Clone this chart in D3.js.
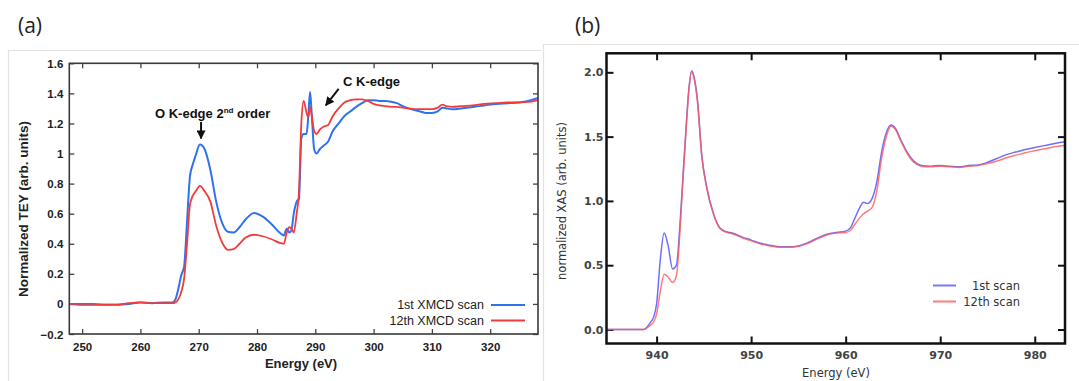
<!DOCTYPE html>
<html>
<head>
<meta charset="utf-8">
<script src="https://cdn.jsdelivr.net/npm/d3@7"></script>
<style>
  html, body { margin: 0; padding: 0; background: #fff; }
  svg { display: block; }
</style>
</head>
<body>
<svg id="chart" width="1079" height="381"></svg>
<script>
// ---------- Panel (a) data ----------
const aEnergy = [247.8, 250, 252, 254, 256, 258, 260, 262, 264, 265.5, 266, 266.5, 267, 267.5, 268, 268.5, 269, 269.5, 270.2, 271, 272, 273, 274, 275, 276, 277, 278, 279.5, 281, 282.5, 284, 284.6, 285.1, 285.5, 285.9, 286.3, 286.8, 287.2, 287.6, 288.0, 288.5, 288.8, 289.1, 289.4, 289.8, 290.2, 290.8, 291.5, 292.2, 293, 294, 295, 296, 297, 298, 299, 300, 301, 302, 303, 304, 305, 306, 307, 308, 309, 310, 311, 311.8, 312.5, 313.5, 315, 317, 319, 321, 323, 325, 327, 328.2];
const aScan1 = [0, -0.005, -0.005, -0.005, -0.005, 0, 0.01, 0.005, 0.01, 0.01, 0.03, 0.1, 0.19, 0.25, 0.55, 0.85, 0.93, 0.99, 1.06, 1.03, 0.89, 0.68, 0.54, 0.48, 0.475, 0.51, 0.56, 0.605, 0.58, 0.53, 0.47, 0.455, 0.5, 0.475, 0.49, 0.6, 0.68, 0.7, 1.1, 1.13, 1.13, 1.25, 1.41, 1.25, 1.03, 1.0, 1.03, 1.055, 1.08, 1.15, 1.2, 1.25, 1.28, 1.31, 1.335, 1.355, 1.355, 1.35, 1.35, 1.345, 1.335, 1.315, 1.3, 1.29, 1.28, 1.27, 1.27, 1.28, 1.305, 1.3, 1.295, 1.3, 1.31, 1.32, 1.33, 1.335, 1.34, 1.355, 1.37];
const aScan12 = [0, 0, 0, -0.005, -0.005, 0.005, 0.01, 0.005, 0.005, 0.005, 0.01, 0.03, 0.08, 0.17, 0.4, 0.66, 0.72, 0.75, 0.785, 0.75, 0.68, 0.52, 0.41, 0.36, 0.365, 0.4, 0.44, 0.46, 0.45, 0.43, 0.405, 0.40, 0.475, 0.51, 0.5, 0.475, 0.6, 0.75, 1.2, 1.35, 1.27, 1.24, 1.31, 1.25, 1.15, 1.13, 1.16, 1.18, 1.19, 1.25, 1.3, 1.34, 1.355, 1.36, 1.36, 1.35, 1.33, 1.32, 1.315, 1.31, 1.31, 1.305, 1.3, 1.295, 1.295, 1.295, 1.295, 1.305, 1.325, 1.315, 1.31, 1.315, 1.32, 1.33, 1.335, 1.34, 1.34, 1.345, 1.355];
const aXTicks = [250, 260, 270, 280, 290, 300, 310, 320];
const aYTicks = [-0.2, 0, 0.2, 0.4, 0.6, 0.8, 1, 1.2, 1.4, 1.6];
const aSeriesNames = ["1st XMCD scan", "12th XMCD scan"];

// ---------- Panel (b) data ----------
const bEnergy = [934.7, 936, 937, 938, 938.6, 939.3, 939.7, 940, 940.4, 940.8, 941.2, 941.7, 942.1, 942.5, 942.8, 943.1, 943.4, 943.7, 944.0, 944.3, 944.8, 945.3, 946, 946.7, 947.4, 948, 949, 950, 951, 952, 953, 954, 955, 956, 957, 958, 959, 960, 960.5, 961, 961.5, 961.9, 962.3, 962.8, 963.3, 963.8, 964.3, 964.8, 965.3, 965.8, 966.5, 967.2, 968, 969, 970, 971, 972, 973, 974, 975, 976, 977, 978, 979, 980, 981, 982, 983.2];
const bScan1 = [0, 0, 0, 0, 0, 0.05, 0.1, 0.2, 0.55, 0.75, 0.66, 0.47, 0.5, 0.85, 1.2, 1.55, 1.86, 2.01, 1.95, 1.8, 1.34, 1.11, 0.905, 0.79, 0.76, 0.75, 0.72, 0.695, 0.67, 0.655, 0.643, 0.643, 0.65, 0.675, 0.71, 0.74, 0.755, 0.765, 0.79, 0.87, 0.95, 0.99, 0.98, 1.02, 1.15, 1.38, 1.53, 1.59, 1.56, 1.48, 1.38, 1.31, 1.275, 1.27, 1.275, 1.27, 1.265, 1.275, 1.28, 1.3, 1.33, 1.36, 1.38, 1.4, 1.415, 1.43, 1.445, 1.46];
const bScan12 = [0, 0, 0, 0, 0, 0.03, 0.06, 0.12, 0.3, 0.43, 0.41, 0.365, 0.42, 0.8, 1.18, 1.53, 1.85, 2.0, 1.94, 1.79, 1.33, 1.1, 0.9, 0.785, 0.755, 0.745, 0.715, 0.69, 0.665, 0.65, 0.64, 0.64, 0.648, 0.67, 0.705, 0.735, 0.75, 0.755, 0.77, 0.82, 0.87, 0.9, 0.92, 0.95, 1.08, 1.33, 1.5, 1.58, 1.55, 1.47, 1.37, 1.3, 1.27, 1.265, 1.27, 1.265, 1.26, 1.27, 1.275, 1.29, 1.31, 1.335, 1.355, 1.375, 1.39, 1.405, 1.42, 1.43];
const bXTicks = [940, 950, 960, 970, 980];
const bYTicks = [0, 0.5, 1.0, 1.5, 2.0];
const bSeriesNames = ["1st scan", "12th scan"];

const svg = d3.select("#chart");

// ---------- card outlines ----------
svg.append("path").attr("d", "M8.5,381 V50.5 H541").attr("fill", "none").attr("stroke", "#e2e2e2").attr("stroke-width", 1.2);
svg.append("path").attr("d", "M543.5,381 V44.5 H1079").attr("fill", "none").attr("stroke", "#e2e2e2").attr("stroke-width", 1.2);

// panel labels
svg.append("text").attr("x", 18).attr("y", 33).attr("font-family", "Open Sans, Liberation Sans, sans-serif")
  .attr("font-size", 21).attr("fill", "#222").text("(a)");
svg.append("text").attr("x", 575).attr("y", 33).attr("font-family", "Open Sans, Liberation Sans, sans-serif")
  .attr("font-size", 21).attr("fill", "#222").text("(b)");

// ================= Panel (a) =================
{
  const L = 69.3, R = 538, T = 63.3, B = 334;
  const x = d3.scaleLinear().domain([247.8, 328.2]).range([L, R]);
  const y = d3.scaleLinear().domain([-0.2, 1.6]).range([B, T]);
  const g = svg.append("g");
  const font = "Liberation Sans, Arial, sans-serif";
  const tk = 5;

  const axB = g.append("g").attr("transform", `translate(0,${B})`)
    .call(d3.axisBottom(x).tickValues(aXTicks).tickSize(-tk).tickPadding(9).tickFormat(d3.format("d")));
  const axT = g.append("g").attr("transform", `translate(0,${T})`)
    .call(d3.axisTop(x).tickValues(aXTicks).tickSize(-tk).tickFormat(""));
  const axL = g.append("g").attr("transform", `translate(${L},0)`)
    .call(d3.axisLeft(y).tickValues(aYTicks).tickSize(-tk).tickPadding(6).tickFormat(d => d3.format("")(+d.toFixed(1))));
  const axR = g.append("g").attr("transform", `translate(${R},0)`)
    .call(d3.axisRight(y).tickValues(aYTicks).tickSize(-tk).tickFormat(""));
  [axB, axT, axL, axR].forEach(a => {
    a.select(".domain").remove();
    a.selectAll("line").attr("stroke", "#444").attr("stroke-width", 1.3);
    a.selectAll("text").attr("font-family", font).attr("font-weight", "bold").attr("font-size", 11.5).attr("fill", "#222");
  });
  axL.selectAll("text").attr("dy", "0.35em");

  const line = d3.line().x(d => x(d[0])).y(d => y(d[1])).curve(d3.curveMonotoneX);
  const s1 = aEnergy.map((e, i) => [e, aScan1[i]]);
  const s12 = aEnergy.map((e, i) => [e, aScan12[i]]);
  svg.append("clipPath").attr("id", "clipA").append("rect").attr("x", L).attr("y", T).attr("width", R - L).attr("height", B - T);
  const cg = g.append("g").attr("clip-path", "url(#clipA)");
  cg.append("path").datum(s1).attr("d", line).attr("fill", "none").attr("stroke", "#2f72f0").attr("stroke-width", 2);
  cg.append("path").datum(s12).attr("d", line).attr("fill", "none").attr("stroke", "#f23c3c").attr("stroke-width", 1.8);

  g.append("rect").attr("x", L).attr("y", T).attr("width", R - L).attr("height", B - T)
    .attr("fill", "none").attr("stroke", "#3a3a3a").attr("stroke-width", 1.6);

  g.append("text").attr("x", 301).attr("y", 368).attr("text-anchor", "middle").attr("font-family", font)
    .attr("font-weight", "bold").attr("font-size", 13).attr("fill", "#222").text("Energy (eV)");
  g.append("text").attr("transform", "translate(28,209) rotate(-90)").attr("text-anchor", "middle").attr("font-family", font)
    .attr("font-weight", "bold").attr("font-size", 13.5).attr("fill", "#222").text("Normalized TEY (arb. units)");

  const colsA = ["#2f72f0", "#f23c3c"];
  aSeriesNames.forEach((n, i) => {
    const yy = 305 + i * 15.5;
    g.append("text").attr("x", 484).attr("y", yy).attr("dy", "0.35em").attr("text-anchor", "end")
      .attr("font-family", font).attr("font-size", 12.5).attr("fill", "#222").text(n);
    g.append("line").attr("x1", 491).attr("x2", 525).attr("y1", yy).attr("y2", yy)
      .attr("stroke", colsA[i]).attr("stroke-width", 2);
  });

  const defs = svg.append("defs");
  defs.append("marker").attr("id", "arrowA").attr("viewBox", "0 0 10 10").attr("refX", 9).attr("refY", 5)
    .attr("markerWidth", 4.5).attr("markerHeight", 4.5).attr("orient", "auto")
    .append("path").attr("d", "M0,0 L10,5 L0,10 z").attr("fill", "#111");
  const t1 = g.append("text").attr("x", 155).attr("y", 118).attr("font-family", font).attr("font-weight", "bold")
    .attr("font-size", 13).attr("fill", "#111");
  t1.append("tspan").text("O K-edge 2");
  t1.append("tspan").attr("font-size", 8).attr("dy", -5).text("nd");
  t1.append("tspan").attr("dy", 5).text(" order");
  g.append("line").attr("x1", x(270.4)).attr("x2", x(270.4)).attr("y1", y(1.21)).attr("y2", y(1.1))
    .attr("stroke", "#111").attr("stroke-width", 2).attr("marker-end", "url(#arrowA)");
  g.append("text").attr("x", 343).attr("y", 85.5).attr("font-family", font).attr("font-weight", "bold")
    .attr("font-size", 13).attr("fill", "#111").text("C K-edge");
  g.append("line").attr("x1", x(294.0)).attr("y1", y(1.43)).attr("x2", x(291.8)).attr("y2", y(1.32))
    .attr("stroke", "#111").attr("stroke-width", 2).attr("marker-end", "url(#arrowA)");
}

// ================= Panel (b) =================
{
  const L = 606.5, R = 1065, T = 53.3, B = 343.5;
  const x = d3.scaleLinear().domain([934.7, 983.2]).range([L, R]);
  const y = d3.scaleLinear().domain([-0.109, 2.148]).range([B, T]);
  const g = svg.append("g");
  const font = "DejaVu Sans, Verdana, sans-serif";
  const tk = 7;

  const axB = g.append("g").attr("transform", `translate(0,${B})`)
    .call(d3.axisBottom(x).tickValues(bXTicks).tickSize(-tk).tickPadding(8).tickFormat(d3.format("d")));
  const axT = g.append("g").attr("transform", `translate(0,${T})`)
    .call(d3.axisTop(x).tickValues(bXTicks).tickSize(-tk).tickFormat(""));
  const axL = g.append("g").attr("transform", `translate(${L},0)`)
    .call(d3.axisLeft(y).tickValues(bYTicks).tickSize(-tk).tickPadding(3).tickFormat(d3.format(".1f")));
  const axR = g.append("g").attr("transform", `translate(${R},0)`)
    .call(d3.axisRight(y).tickValues(bYTicks).tickSize(-tk).tickFormat(""));
  [axB, axT, axL, axR].forEach(a => {
    a.select(".domain").remove();
    a.selectAll("line").attr("stroke", "#111").attr("stroke-width", 2);
    a.selectAll("text").attr("font-family", font).attr("font-weight", "bold").attr("font-size", 11).attr("fill", "#444");
  });

  const line = d3.line().x(d => x(d[0])).y(d => y(d[1])).curve(d3.curveMonotoneX);
  const s1 = bEnergy.map((e, i) => [e, bScan1[i]]);
  const s12 = bEnergy.map((e, i) => [e, bScan12[i]]);
  svg.append("clipPath").attr("id", "clipB").append("rect").attr("x", L).attr("y", T).attr("width", R - L).attr("height", B - T);
  const cg = g.append("g").attr("clip-path", "url(#clipB)");
  cg.append("path").datum(s1).attr("d", line).attr("fill", "none").attr("stroke", "#5555ff").attr("stroke-opacity", 0.85).attr("stroke-width", 1.5);
  cg.append("path").datum(s12).attr("d", line).attr("fill", "none").attr("stroke", "#ff5a5a").attr("stroke-opacity", 0.8).attr("stroke-width", 1.5);

  g.append("rect").attr("x", L).attr("y", T).attr("width", R - L).attr("height", B - T)
    .attr("fill", "none").attr("stroke", "#111").attr("stroke-width", 2.5);

  g.append("text").attr("x", 836).attr("y", 377).attr("text-anchor", "middle").attr("font-family", font)
    .attr("font-size", 11.5).attr("fill", "#333").text("Energy (eV)");
  g.append("text").attr("transform", "translate(566,201) rotate(-90)").attr("text-anchor", "middle").attr("font-family", font)
    .attr("font-size", 11.5).attr("fill", "#333").text("normalized XAS (arb. units)");

  const colsB = ["#5555ff", "#ff5a5a"];
  bSeriesNames.forEach((n, i) => {
    const yy = 285.5 + i * 16;
    g.append("line").attr("x1", 933).attr("x2", 956).attr("y1", yy).attr("y2", yy)
      .attr("stroke", colsB[i]).attr("stroke-opacity", 0.8).attr("stroke-width", 2);
    g.append("text").attr("x", 1020).attr("y", yy).attr("dy", "0.35em").attr("text-anchor", "end")
      .attr("font-family", font).attr("font-size", 11.5).attr("fill", "#333").text(n);
  });
}
</script>
</body>
</html>
